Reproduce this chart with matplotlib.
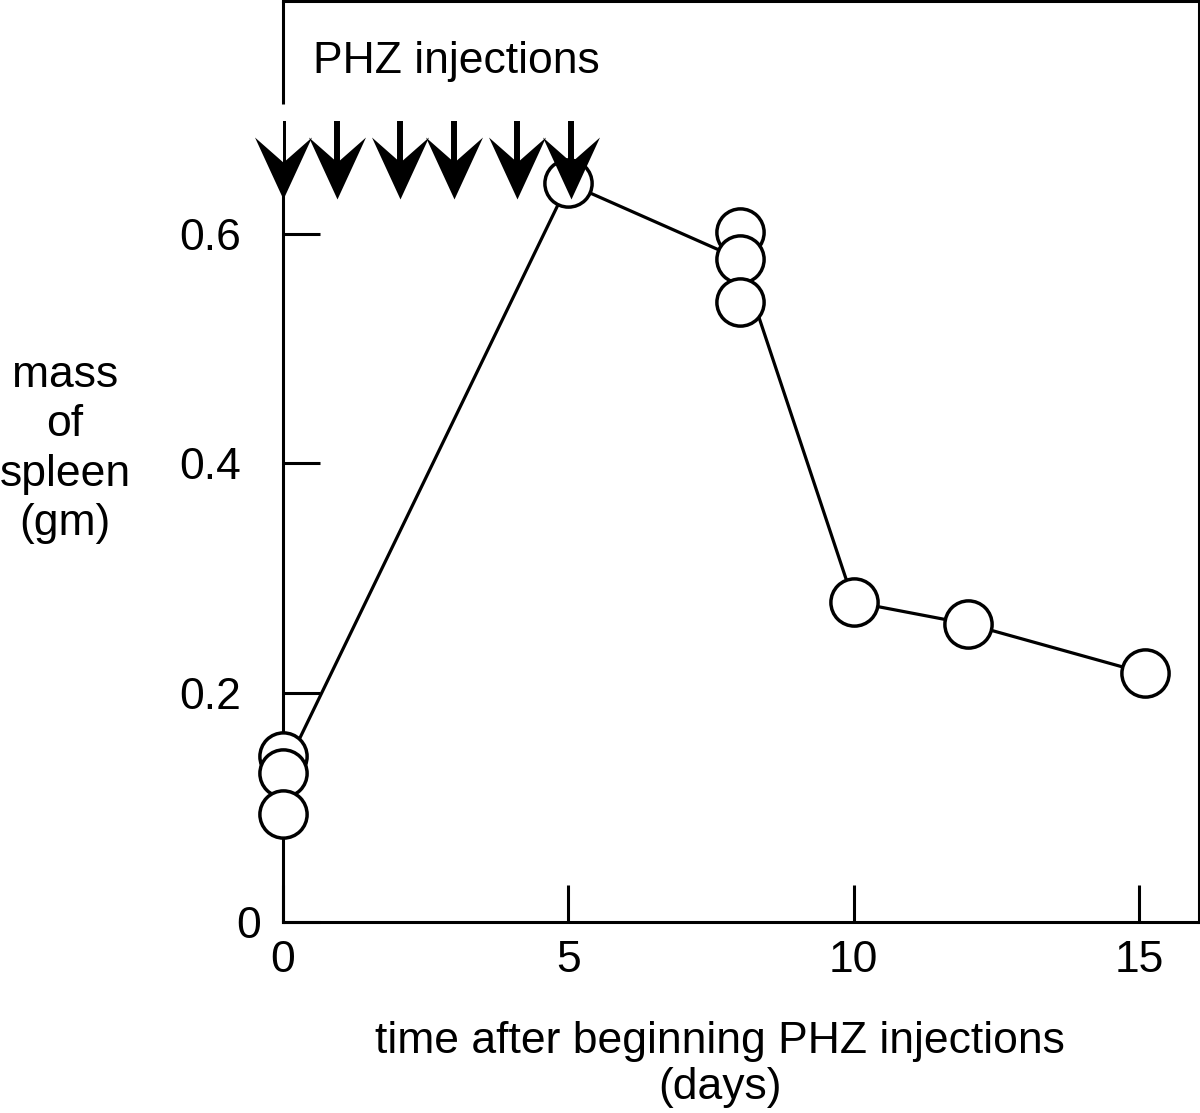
import numpy as np
import matplotlib
matplotlib.use("Agg")
import matplotlib.pyplot as plt
from matplotlib.transforms import ScaledTranslation

plt.rcParams['font.family'] = ['Liberation Sans', 'DejaVu Sans']

# spleen mass measurements (gm), several animals per day
days = [0, 0, 0, 5, 8, 8, 8, 10, 12, 15.1]
mass = [0.145, 0.130, 0.094, 0.644, 0.602, 0.578, 0.541, 0.279, 0.260, 0.217]

# days on which PHZ was injected
injection_days = [0, 0.95, 2.05, 3.0, 4.1, 5.05]

xticks = [0, 5, 10, 15]
yticks = [0, 0.2, 0.4, 0.6]
yticklabels = ["0", "0.2", "0.4", "0.6"]

# line goes through the median of each day
days_arr = np.array(days)
mass_arr = np.array(mass)
line_days = np.unique(days_arr)
line_mass = np.array([np.median(mass_arr[days_arr == d]) for d in line_days])

fs = 32

fig = plt.figure(figsize=(12, 11.13), dpi=100)
ax = fig.add_axes([283/1200, 1 - 922/1113, 916/1200, 921/1113])
ax.set_xlim(0, 16.05)
ax.set_ylim(0, 0.803)

ax.plot(line_days, line_mass, color="black", lw=2.3, zorder=2)
ax.plot(days, mass, "o", ms=34, mfc="white", mec="black", mew=2.5,
        linestyle="none", zorder=3, clip_on=False)

# injection arrows: shaft + concave arrow head marker
head = [(0, -1), (-0.92, 1), (0, 0.19), (0.92, 1), (0, -1)]
shaft_top = 0.698
head_y = 0.657
ax.vlines(injection_days, head_y, shaft_top, color="black", lw=4.3, zorder=4)
ax.plot(injection_days, [head_y] * len(injection_days), marker=head, ms=44.6,
        color="black", mec="black", mew=0, linestyle="none", zorder=5, clip_on=False)

# bracket piece above the arrows
ax.vlines(0, 0.713, 0.803, color="black", lw=2.2, clip_on=False)
ax.text(0.033, 0.922, "PHZ injections", transform=ax.transAxes,
        fontsize=fs, ha="left", va="baseline")

for s in ["top", "right", "bottom", "left"]:
    ax.spines[s].set_linewidth(2.2)
ax.spines["left"].set_bounds(0, 0.632)

ax.set_xticks(xticks)
ax.set_xticklabels([str(t) for t in xticks])
ax.set_yticks(yticks)
ax.set_yticklabels(yticklabels)
ax.tick_params(axis="both", direction="in", length=26.6, width=2.2, labelsize=fs)
ax.tick_params(axis="y", pad=30)
ax.tick_params(axis="x", pad=13)

# the zero label sits closer to the axis
lab0 = ax.get_yticklabels()[0]
lab0.set_transform(lab0.get_transform() + ScaledTranslation(20/100, 0, fig.dpi_scale_trans))

ax.set_ylabel("mass\nof\nspleen\n(gm)", rotation=0, fontsize=fs, ha="center",
              va="center", linespacing=1.26)
ax.yaxis.set_label_coords(-0.238, 0.513)
ax.set_xlabel("time after beginning PHZ injections\n(days)", fontsize=fs,
              ha="center", va="center", linespacing=1.15)
ax.xaxis.set_label_coords(0.477, -0.155)

fig.savefig("out.png", dpi=100)
